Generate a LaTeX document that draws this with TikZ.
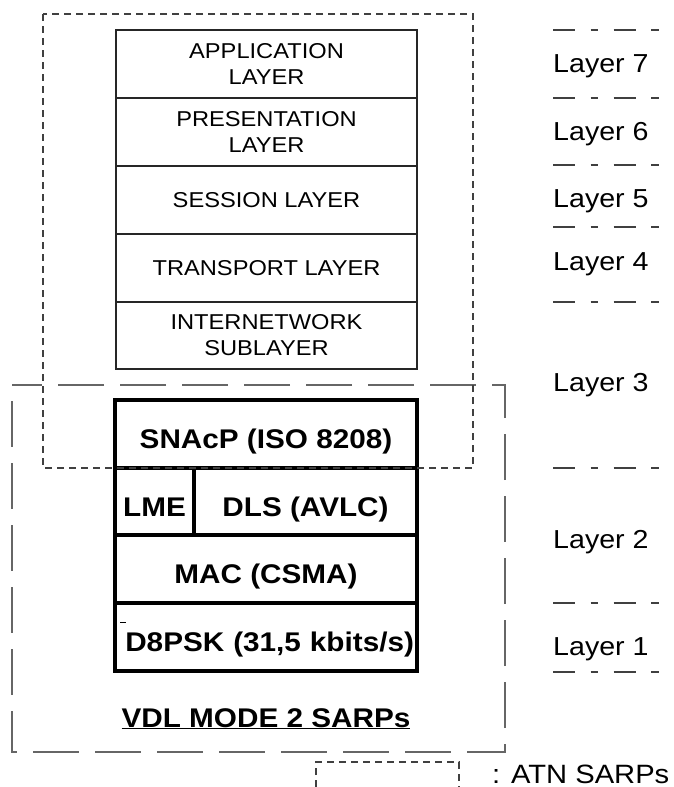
\documentclass[tikz,border=0pt]{standalone}
\usepackage{fontspec}
\setmainfont{Liberation Sans}[FakeStretch=1.1]
\begin{document}
\begin{tikzpicture}[x=1pt,y=-1pt,
  osibox/.style={draw=black!85, line width=1.3pt, minimum width=301pt, minimum height=68pt, inner sep=0pt, align=center, font=\fontsize{21.5}{26}\selectfont},
  vdlbox/.style={draw, line width=4pt, minimum height=68pt, inner sep=0pt, text height=29pt, text depth=0pt, font=\fontsize{27}{32}\bfseries\selectfont},
  laylab/.style={anchor=base west, inner sep=0pt, font=\fontsize{26}{30}\selectfont},
  sepline/.style={draw=black!75, line width=1.2pt, dash pattern=on 22pt off 15.5pt on 7.5pt off 15.5pt},
  atnline/.style={draw=black!75, line width=1.1pt, dash pattern=on 7pt off 5pt},
  sarpline/.style={draw=black!60, line width=1.4pt, dash pattern=on 46pt off 16pt, dash phase=46pt}]
\useasboundingbox (0,0) rectangle (674,787);
% OSI upper layers
\node[osibox] (app) at (266.5,64) {APPLICATION\\LAYER};
\node[osibox] (pres) at (266.5,132) {PRESENTATION\\LAYER};
\node[osibox] (sess) at (266.5,200) {SESSION LAYER};
\node[osibox] (trans) at (266.5,268) {TRANSPORT LAYER};
\node[osibox, minimum height=67pt] (inet) at (266.5,335.5) {INTERNETWORK\\SUBLAYER};
% VDL mode 2 stack
\node[vdlbox, minimum width=302pt] (snacp) at (266,434) {SNAcP (ISO 8208)};
\node[vdlbox, minimum width=79pt, minimum height=67pt] (lme) at (154.5,501.5) {LME};
\node[vdlbox, minimum width=223pt, minimum height=67pt] (dls) at (305.5,501.5) {DLS (AVLC)};
\node[vdlbox, minimum width=302pt] (mac) at (266,569) {MAC (CSMA)};
\node[vdlbox, minimum width=302pt, text width=296pt, align=right] (phy) at (266,637) {D8PSK (31,5 kbits/s)};
\draw[line width=0.8pt] (120,622) -- (126,622);
\node[anchor=base, inner sep=0pt, font=\fontsize{27}{32}\bfseries\selectfont] (vdl) at (266,727) {\underline{VDL MODE 2 SARPs}};
% SARPs frames
\draw[sarpline] (12,385) rectangle (505,752);
\draw[atnline] (43,14) rectangle (473,468);
\draw[atnline] (316,787) |- (459,762) -- (459,787);
\node[anchor=base west, inner sep=0pt, font=\fontsize{26.5}{30}\selectfont] (atn) at (492,783) {: ATN SARPs};
% layer scale
\foreach \y in {30,98,165,227,302,468,603,672}
  \draw[sepline] (553,\y) -- (659,\y);
\node[laylab] (lay7) at (553,72) {Layer 7};
\node[laylab] (lay6) at (553,140) {Layer 6};
\node[laylab] (lay5) at (553,207) {Layer 5};
\node[laylab] (lay4) at (553,270) {Layer 4};
\node[laylab] (lay3) at (553,391) {Layer 3};
\node[laylab] (lay2) at (553,548) {Layer 2};
\node[laylab] (lay1) at (553,655) {Layer 1};
\end{tikzpicture}
\end{document}
